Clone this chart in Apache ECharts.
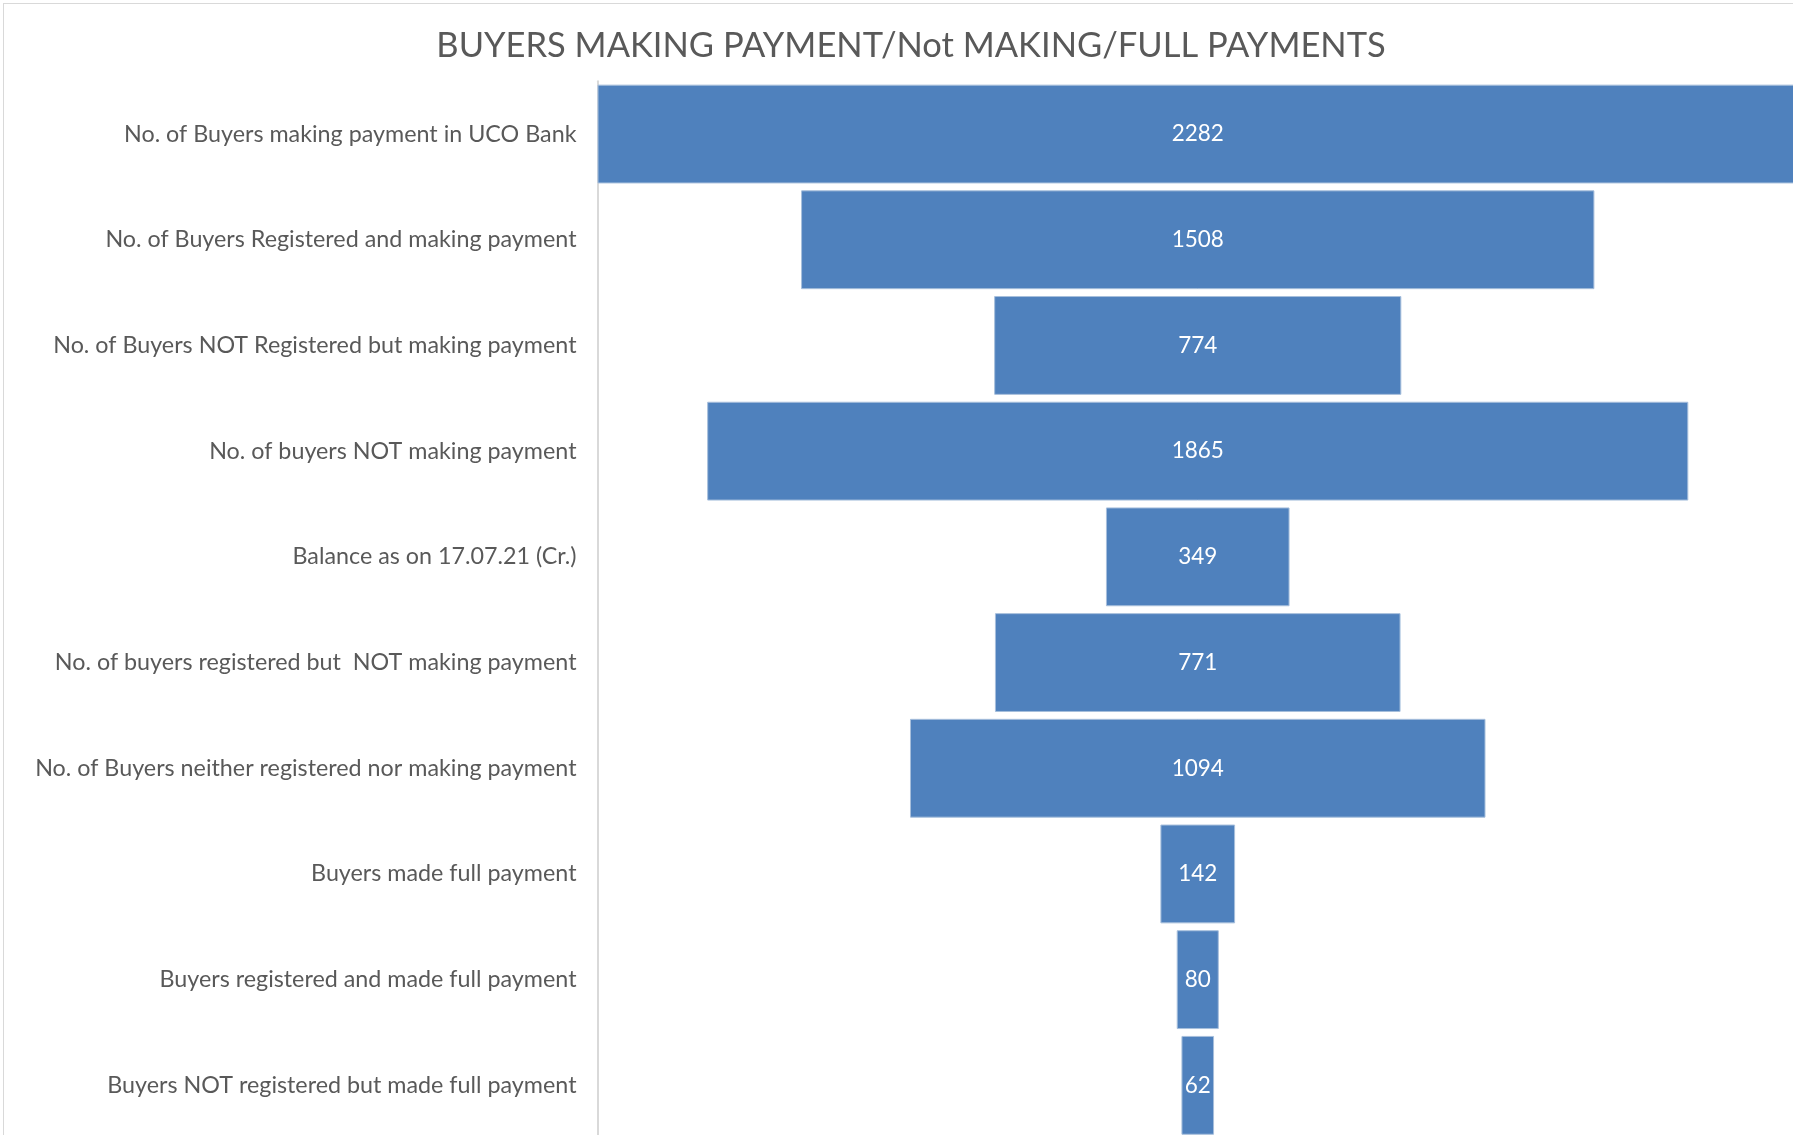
<!DOCTYPE html>
<html>
<head>
<meta charset="utf-8">
<script src="https://cdn.jsdelivr.net/npm/echarts@6/dist/echarts.min.js"></script>
<style>
  html, body { margin: 0; padding: 0; background: #fff; }
  #chart { position: absolute; left: 0; top: 0; width: 1793px; height: 1135px; }
  #frame { position: absolute; left: 3px; top: 3px; width: 1800px; height: 1200px;
           border-left: 1px solid #d9d9d9; border-top: 1px solid #d9d9d9; }
</style>
</head>
<body>
<div id="frame"></div>
<div id="chart"></div>
<script>
const titleText = 'BUYERS MAKING PAYMENT/Not MAKING/FULL PAYMENTS';

const stages = [
  'No. of Buyers making payment in UCO Bank',
  'No. of Buyers Registered and making payment',
  'No. of Buyers NOT Registered but making payment',
  'No. of buyers NOT making payment',
  'Balance as on 17.07.21 (Cr.)',
  'No. of buyers registered but  NOT making payment',
  'No. of Buyers neither registered nor making payment',
  'Buyers made full payment',
  'Buyers registered and made full payment',
  'Buyers NOT registered but made full payment'
];

const counts = [2282, 1508, 774, 1865, 349, 771, 1094, 142, 80, 62];

// funnel look: an invisible bar pushes each visible bar to the centre
const widest = Math.max.apply(null, counts);
const offsets = counts.map(v => (widest - v) / 2);

const chart = echarts.init(document.getElementById('chart'));

chart.setOption({
  animation: false,
  title: {
    text: titleText,
    left: 911,
    top: 28,
    textAlign: 'center',
    padding: 0,
    textStyle: {
      color: '#595959',
      fontFamily: 'Lato',
      fontWeight: 'normal',
      fontSize: 34.5
    }
  },
  grid: {
    left: 597.5,
    top: 81.2,
    width: 1200.5,
    height: 1057,
    outerBoundsMode: 'none',
    containLabel: false
  },
  xAxis: {
    type: 'value',
    min: 0,
    max: widest,
    show: false
  },
  yAxis: {
    type: 'category',
    data: stages,
    inverse: true,
    axisTick: { show: false },
    axisLine: { show: true, lineStyle: { color: '#d9d9d9', width: 2 } },
    axisLabel: {
      color: '#595959',
      fontFamily: 'Lato',
      fontSize: 23.3,
      margin: 21
    }
  },
  series: [
    {
      type: 'bar',
      stack: 'funnel',
      data: offsets,
      itemStyle: { color: 'transparent' },
      barCategoryGap: '6.5%',
      silent: true
    },
    {
      type: 'bar',
      stack: 'funnel',
      data: counts,
      barCategoryGap: '6.5%',
      itemStyle: { color: '#4f81bd', borderColor: '#a7bfdc', borderWidth: 1 },
      label: {
        show: true,
        position: 'inside',
        color: '#fff',
        fontFamily: 'Lato',
        fontSize: 22.5
      }
    }
  ]
});
</script>
</body>
</html>
